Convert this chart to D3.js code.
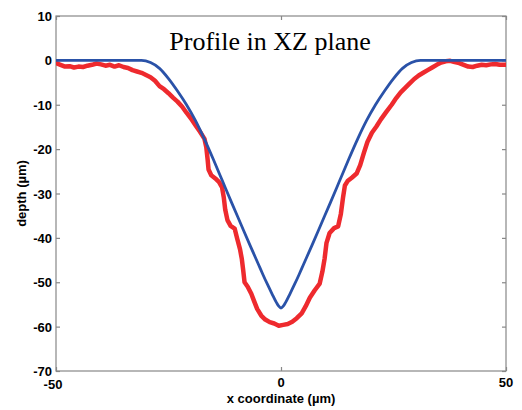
<!DOCTYPE html>
<html><head><meta charset="utf-8">
<script src="https://cdn.jsdelivr.net/npm/d3@7"></script>
<style>body{margin:0;background:#fff}</style>
</head><body>
<svg id="c" width="522" height="410"></svg>
<script>
const xTicks = [-50, 0, 50];
const yTicks = [10, 0, -10, -20, -30, -40, -50, -60, -70];
const titleText = "Profile in XZ plane";
const xLabel = "x coordinate (\u00b5m)";
const yLabel = "depth (\u00b5m)";

const blueX = [-50,-31,-29,-27,-25,-23,-21,-19,-17,-15,-13,-11,-9,-7,-5,-4,-3,-2,-1,-0.5,0,0.5,1,2,3,4,5,7,9,11,13,15,17,19,21,23,25,27,29,31,50];
const blueY = [0,0,-0.5,-1.8,-4.1,-6.9,-10.0,-13.6,-17.8,-22.4,-27.2,-32.0,-36.7,-41.4,-46.0,-48.3,-50.5,-52.6,-54.6,-55.4,-55.8,-55.4,-54.6,-52.6,-50.5,-48.3,-46.0,-41.4,-36.7,-32.0,-27.2,-22.4,-17.8,-13.6,-10.0,-6.9,-4.1,-1.8,-0.5,0,0];

const redX = [-50,-49,-48,-47,-46,-45,-44,-43,-42,-41,-40,-39,-38,-37,-36,-35,-34,-33,-32,-31,-30,-29,-28,-27,-26,-25,-24,-23,-22,-21,-20,-19,-18,-17,-16.6,-16.3,-16.1,-15.5,-14.6,-13.8,-13.1,-12.7,-12.4,-11.9,-11.2,-10.3,-9.7,-9.1,-8.7,-8.4,-8.1,-7.4,-6.6,-6.0,-5.3,-4.4,-3.5,-2.5,-1.5,-0.5,0.5,1.5,2.5,3.5,4.6,5.5,6.4,7.5,8.6,9.2,9.7,10.1,10.8,11.8,12.7,13.3,13.8,14.2,14.8,15.8,16.8,17.6,18.4,19.2,20.2,21.2,22.2,23.4,24.6,25.6,26.6,27.6,28.6,29.6,30.6,31.6,32.6,33.6,34.6,35.6,36.6,37.6,38.6,39.6,40.6,41.6,42.6,43.6,44.6,45.6,46.6,47.6,48.6,50];
const redY = [-0.6,-1.0,-1.4,-1.3,-1.6,-1.4,-1.5,-1.2,-1.0,-0.7,-0.9,-1.2,-1.0,-1.4,-1.1,-1.5,-1.7,-2.2,-2.5,-2.8,-3.3,-3.8,-4.6,-5.8,-6.5,-7.4,-8.4,-9.3,-10.4,-11.8,-13.1,-14.6,-16.1,-17.7,-19.6,-22.4,-24.6,-25.9,-26.6,-27.4,-28.6,-31.0,-33.6,-36.0,-37.3,-37.9,-40.3,-42.6,-44.8,-47.3,-50.0,-51.0,-52.6,-54.2,-56.0,-57.5,-58.4,-59.0,-59.3,-59.8,-59.6,-59.4,-58.9,-58.1,-57.0,-55.4,-53.5,-51.8,-50.3,-47.6,-44.6,-41.2,-38.9,-37.8,-37.4,-34.6,-30.8,-28.2,-27.2,-26.4,-25.5,-23.6,-20.9,-18.4,-16.3,-14.9,-13.3,-11.6,-10.0,-8.5,-7.2,-6.2,-5.2,-4.2,-3.4,-2.8,-2.2,-1.6,-1.0,-0.5,-0.2,-0.1,-0.4,-0.6,-1.0,-1.4,-1.5,-1.2,-1.0,-1.1,-0.9,-0.8,-1.0,-1.0];

const svg = d3.select("#c");
const L = 56, R = 506, T = 16, B = 371;
const x = d3.scaleLinear().domain([-50, 50]).range([L, R]);
const y = d3.scaleLinear().domain([-70, 10]).range([B, T]);
const axisColor = "#888";

svg.append("rect").attr("x", L).attr("y", T).attr("width", R - L).attr("height", B - T)
  .attr("fill", "none").attr("stroke", axisColor).attr("stroke-width", 1.2);

const yl = svg.append("g").attr("transform", `translate(${L},0)`)
  .call(d3.axisRight(y).tickValues(yTicks).tickSize(4).tickFormat(""));
const yr = svg.append("g").attr("transform", `translate(${R},0)`)
  .call(d3.axisLeft(y).tickValues(yTicks).tickSize(4).tickFormat(""));
const xb = svg.append("g").attr("transform", `translate(0,${B})`)
  .call(d3.axisTop(x).tickValues(xTicks).tickSize(4).tickFormat(""));
const xt = svg.append("g").attr("transform", `translate(0,${T})`)
  .call(d3.axisBottom(x).tickValues(xTicks).tickSize(4).tickFormat(""));
[yl, yr, xb, xt].forEach(g => {
  g.select(".domain").remove();
  g.selectAll("line").attr("stroke", axisColor).attr("stroke-width", 1.2);
});

const lab = svg.append("g").attr("font-family", "Liberation Sans, Arial, sans-serif")
  .attr("font-weight", "bold").attr("font-size", 13).attr("fill", "#000");
lab.selectAll(".yt").data(yTicks).join("text")
  .attr("x", L - 4).attr("y", d => y(d) + 5).attr("text-anchor", "end").text(d => d);
lab.selectAll(".xt").data(xTicks).join("text")
  .attr("x", d => x(d) - (d < 0 ? 3 : 0)).attr("y", d => B + (d < 0 ? 18 : 16)).attr("text-anchor", "middle").text(d => d);

lab.append("text").attr("x", (L + R) / 2).attr("y", 403).attr("text-anchor", "middle").text(xLabel);
lab.append("text").attr("transform", `translate(26,${(T + B) / 2}) rotate(-90)`)
  .attr("text-anchor", "middle").text(yLabel);

svg.append("text").attr("x", 270).attr("y", 50).attr("text-anchor", "middle")
  .attr("font-family", "Liberation Serif, Times New Roman, serif").attr("font-size", 26)
  .attr("fill", "#000").text(titleText);

svg.append("clipPath").attr("id", "pc").append("rect")
  .attr("x", L).attr("y", T).attr("width", R - L).attr("height", B - T);

const redData = redX.map((v, i) => [v, redY[i]]);
const blueData = blueX.map((v, i) => [v, blueY[i]]);

svg.append("path").datum(redData)
  .attr("clip-path", "url(#pc)")
  .attr("d", d3.line().x(d => x(d[0])).y(d => y(d[1])).curve(d3.curveLinear))
  .attr("fill", "none").attr("stroke", "#ee2a2e").attr("stroke-width", 4.5)
  .attr("stroke-linejoin", "round").attr("stroke-linecap", "round");

svg.append("path").datum(blueData)
  .attr("clip-path", "url(#pc)")
  .attr("d", d3.line().x(d => x(d[0])).y(d => y(d[1])).curve(d3.curveMonotoneX))
  .attr("fill", "none").attr("stroke", "#2a52a8").attr("stroke-width", 2.8);
</script>
</body></html>
